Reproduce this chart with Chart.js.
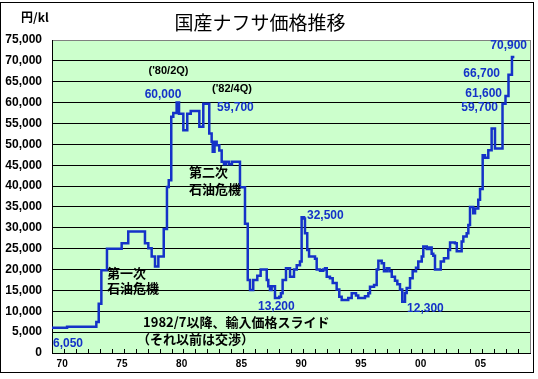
<!DOCTYPE html>
<html>
<head>
<meta charset="utf-8">
<title>国産ナフサ価格推移</title>
<script src="https://cdn.jsdelivr.net/npm/chart.js@4.4.1/dist/chart.umd.min.js"></script>
<style>
  body { margin: 0; background: #fff; }
  canvas { display: block; }
</style>
</head>
<body>
<canvas id="naphthaChart" width="538" height="379"></canvas>
<script>
// Points where the price changes (decimal year) and the new price (yen/kl)
var changeYears = [
    1970.00, 1971.26, 1973.71, 1973.91, 1974.13, 1974.60, 1975.83, 1976.38, 1977.78, 1978.06,
    1978.34, 1978.62, 1978.90, 1979.35, 1979.62, 1979.77, 1979.98, 1980.15, 1980.43, 1980.63,
    1980.99, 1981.32, 1981.61, 1982.33, 1982.66, 1983.16, 1983.36, 1983.45, 1983.60, 1983.78,
    1984.00, 1984.20, 1984.39, 1984.56, 1984.81, 1985.06, 1985.73, 1986.15, 1986.38, 1986.57,
    1986.84, 1987.18, 1987.46, 1987.97, 1988.10, 1988.24, 1988.38, 1988.66, 1989.02, 1989.16,
    1989.30, 1989.58, 1989.92, 1990.25, 1990.48, 1990.75, 1990.89, 1991.09, 1991.17, 1991.36,
    1991.51, 1992.01, 1992.15, 1992.43, 1992.70, 1992.85, 1992.99, 1993.26, 1993.49, 1993.82,
    1994.04, 1994.24, 1994.79, 1995.08, 1995.44, 1995.63, 1996.19, 1996.47, 1996.61, 1996.95,
    1997.17, 1997.31, 1997.59, 1997.78, 1998.01, 1998.23, 1998.43, 1998.70, 1998.90, 1999.12,
    1999.31, 1999.54, 1999.68, 1999.96, 2000.18, 2000.46, 2000.65, 2000.94, 2001.07, 2001.36,
    2001.57, 2001.77, 2001.91, 2002.05, 2002.53, 2002.80, 2003.16, 2003.31, 2003.72, 2003.87,
    2004.28, 2004.42, 2004.70, 2004.84, 2004.98, 2005.25, 2005.40, 2005.67, 2005.82, 2006.04,
    2006.23, 2006.51, 2006.79, 2007.07, 2007.70, 2007.95, 2008.20, 2008.49, 2008.69
];
var naphthaPrice = [
    6050, 6300, 7400, 11800, 19800, 25000, 26300, 29100, 26300, 25100,
    23100, 20700, 23100, 29700, 39800, 41400, 56600, 57500, 60000, 57300,
    53400, 57300, 58000, 54200, 59700, 52600, 50600, 48200, 50600, 49800,
    48500, 45800, 45200, 45800, 45200, 45800, 39700, 31000, 17500, 15100,
    17500, 18500, 20000, 17500, 16000, 15100, 16000, 13200, 13500, 14300,
    17500, 20300, 18300, 20000, 21000, 21900, 32500, 32200, 28700, 24700,
    23100, 22600, 20000, 19700, 20000, 20300, 18300, 17900, 16800, 15200,
    13500, 12700, 13200, 14300, 13800, 13200, 13600, 14300, 15900, 16300,
    20000, 22100, 21500, 19600, 20300, 19600, 18300, 17300, 16500, 15200,
    12300, 14400, 15600, 17900, 19600, 20400, 21900, 23100, 25500, 24900,
    25300, 23800, 23300, 20000, 21900, 22700, 24700, 26500, 26300, 24400,
    26700, 27900, 28700, 30700, 35000, 33500, 34600, 36700, 39300, 47400,
    46800, 48600, 53800, 49000, 59700, 61600, 66700, 70900, 70900
];

// Axis labels
var xTickYears = [1970, 1975, 1980, 1985, 1990, 1995, 2000, 2005];
var xTickLabels = ['70', '75', '80', '85', '90', '95', '00', '05'];

var BLUE = '#1432C8';
var JP = '"Noto Sans CJK JP", sans-serif';
var NUM = '"Liberation Sans", Arial, sans-serif';

// Callouts placed in data coordinates (year, yen/kl)
var notes = [
    { text: '6,050', year: 1970.08, value: 2300, align: 'left', color: BLUE, font: 'bold 12px ' + NUM },
    { text: '60,000', year: 1979.29, value: 61800, align: 'center', color: BLUE, font: 'bold 12px ' + NUM },
    { text: "('80/2Q)", year: 1979.75, value: 67600, align: 'center', color: '#000', font: 'bold 11px ' + NUM },
    { text: "('82/4Q)", year: 1985.06, value: 63300, align: 'center', color: '#000', font: 'bold 11px ' + NUM },
    { text: '59,700', year: 1983.81, value: 58700, align: 'left', color: BLUE, font: 'bold 12px ' + NUM },
    { text: '第二次', year: 1981.46, value: 43300, align: 'left', color: '#000', font: 'bold 13px ' + JP },
    { text: '石油危機', year: 1981.46, value: 39300, align: 'left', color: '#000', font: 'bold 13px ' + JP },
    { text: '第一次', year: 1974.60, value: 19100, align: 'left', color: '#000', font: 'bold 13px ' + JP },
    { text: '石油危機', year: 1974.60, value: 15500, align: 'left', color: '#000', font: 'bold 13px ' + JP },
    { text: '1982/7以降、輸入価格スライド', year: 1977.62, value: 7400, align: 'left', color: '#000', font: 'bold 13px ' + JP },
    { text: '（それ以前は交渉）', year: 1977.12, value: 3300, align: 'left', color: '#000', font: 'bold 13px ' + JP },
    { text: '13,200', year: 1987.24, value: 11000, align: 'left', color: BLUE, font: 'bold 12px ' + NUM },
    { text: '32,500', year: 1991.34, value: 32800, align: 'left', color: BLUE, font: 'bold 12px ' + NUM },
    { text: '12,300', year: 1999.71, value: 10700, align: 'left', color: BLUE, font: 'bold 12px ' + NUM },
    { text: '59,700', year: 2007.32, value: 58900, align: 'right', color: BLUE, font: 'bold 12px ' + NUM },
    { text: '61,600', year: 2007.66, value: 62100, align: 'right', color: BLUE, font: 'bold 12px ' + NUM },
    { text: '66,700', year: 2007.49, value: 66900, align: 'right', color: BLUE, font: 'bold 12px ' + NUM },
    { text: '70,900', year: 2009.75, value: 73600, align: 'right', color: BLUE, font: 'bold 12px ' + NUM }
];

var points = changeYears.map(function(yr, i) {
    return { x: yr, y: naphthaPrice[i] };
});

// Background, frame, inner year ticks, title and callouts
var decorations = {
    id: 'decorations',
    beforeDraw: function(chart) {
        var ctx = chart.ctx, a = chart.chartArea;
        ctx.save();
        ctx.fillStyle = '#fff';
        ctx.fillRect(0, 0, chart.width, chart.height);
        ctx.fillStyle = '#CCFFCC';
        ctx.fillRect(a.left, a.top, a.right - a.left, a.bottom - a.top);
        ctx.restore();
    },
    afterDraw: function(chart) {
        var ctx = chart.ctx, a = chart.chartArea;
        var xs = chart.scales.x, ys = chart.scales.y;
        ctx.save();
        ctx.lineWidth = 1;

        // right edge of the plot
        ctx.strokeStyle = '#808080';
        ctx.beginPath();
        ctx.moveTo(Math.round(a.right) + 0.5, a.top);
        ctx.lineTo(Math.round(a.right) + 0.5, a.bottom);
        ctx.stroke();

        // year tick marks pointing into the plot
        ctx.strokeStyle = '#000';
        ctx.beginPath();
        for (var yr = 1971; yr < 2010; yr++) {
            var px = Math.round(xs.getPixelForValue(yr)) + 0.5;
            ctx.moveTo(px, a.bottom);
            ctx.lineTo(px, a.bottom - 4);
        }
        ctx.stroke();

        // outer frame
        ctx.strokeRect(0.5, 2.5, 533, 370);

        // title and unit
        ctx.fillStyle = '#000';
        ctx.textBaseline = 'middle';
        ctx.textAlign = 'center';
        ctx.font = '19px ' + JP;
        ctx.fillText('国産ナフサ価格推移', 260, 23);
        ctx.textAlign = 'left';
        ctx.font = 'bold 12px ' + JP;
        ctx.fillText('円/kl', 21, 17);

        notes.forEach(function(n) {
            ctx.font = n.font;
            ctx.fillStyle = n.color;
            ctx.textAlign = n.align;
            ctx.fillText(n.text, xs.getPixelForValue(n.year), ys.getPixelForValue(n.value));
        });
        ctx.restore();
    }
};

new Chart(document.getElementById('naphthaChart'), {
    type: 'line',
    data: {
        datasets: [{
            data: points,
            borderColor: BLUE,
            borderWidth: 2.5,
            pointRadius: 0,
            stepped: true,
            fill: false
        }]
    },
    options: {
        responsive: false,
        animation: false,
        layout: { padding: { top: 40, right: 8, left: 0, bottom: 0 } },
        plugins: {
            legend: { display: false },
            tooltip: { enabled: false }
        },
        scales: {
            x: {
                type: 'linear',
                min: 1970,
                max: 2010,
                afterBuildTicks: function(scale) {
                    scale.ticks = xTickYears.map(function(v) { return { value: v + 0.85 }; });
                },
                afterFit: function(scale) { scale.height = 26; },
                grid: { display: false, drawTicks: false },
                border: { display: true, color: '#000', width: 1 },
                ticks: {
                    autoSkip: false,
                    maxRotation: 0,
                    minRotation: 0,
                    padding: 5,
                    color: '#000',
                    font: { family: NUM, size: 10, weight: 'bold' },
                    callback: function(v) {
                        return xTickLabels[xTickYears.indexOf(Math.round(v - 0.85))];
                    }
                }
            },
            y: {
                min: 0,
                max: 75000,
                afterFit: function(scale) { scale.width = 52; },
                grid: {
                    drawTicks: false,
                    lineWidth: 1,
                    color: function(c) {
                        return c.tick && c.tick.value === 75000 ? '#808080' : '#000';
                    }
                },
                border: { display: true, color: '#000', width: 1 },
                ticks: {
                    stepSize: 5000,
                    padding: 10,
                    color: '#000',
                    font: { family: NUM, size: 12, weight: 'bold' },
                    callback: function(v) { return v.toLocaleString('en-US'); }
                }
            }
        }
    },
    plugins: [decorations]
});
</script>
</body>
</html>
